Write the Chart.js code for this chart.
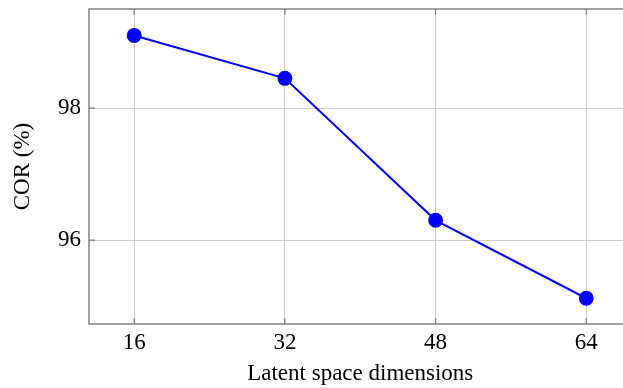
<!DOCTYPE html>
<html>
<head>
<meta charset="utf-8">
<script src="https://cdn.jsdelivr.net/npm/chart.js@4/dist/chart.umd.min.js"></script>
<style>
  html, body { margin: 0; padding: 0; background: #fff; overflow: hidden; }
</style>
</head>
<body>
<canvas id="corChart" width="640" height="388"></canvas>
<script>
// data
const dims = [16, 32, 48, 64];
const corValues = [99.1, 98.45, 96.3, 95.12];
const xTicks = [16, 32, 48, 64];
const yTicks = [96, 98];

const serif = '"Liberation Serif", "DejaVu Serif", serif';

// pgfplots-ish frame with inner tick marks
const framePlugin = {
  id: 'frame',
  afterDraw(chart) {
    const ctx = chart.ctx;
    const a = chart.chartArea;
    const xs = chart.scales.x, ys = chart.scales.y;
    ctx.save();
    ctx.strokeStyle = '#7a7a7a';
    ctx.lineWidth = 1.2;
    xTicks.forEach(v => {
      const px = xs.getPixelForValue(v);
      ctx.beginPath();
      ctx.moveTo(px, a.bottom); ctx.lineTo(px, a.bottom - 6);
      ctx.moveTo(px, a.top); ctx.lineTo(px, a.top + 6);
      ctx.stroke();
    });
    yTicks.forEach(v => {
      const py = ys.getPixelForValue(v);
      ctx.beginPath();
      ctx.moveTo(a.left, py); ctx.lineTo(a.left + 6, py);
      ctx.moveTo(a.right, py); ctx.lineTo(a.right - 6, py);
      ctx.stroke();
    });
    ctx.lineWidth = 1.4;
    ctx.strokeRect(a.left, a.top, a.right - a.left, a.bottom - a.top);
    ctx.restore();
  }
};

const ctx = document.getElementById('corChart').getContext('2d');
new Chart(ctx, {
  type: 'line',
  data: {
    datasets: [{
      data: dims.map((d, i) => ({ x: d, y: corValues[i] })),
      borderColor: '#0000ff',
      backgroundColor: '#0000ff',
      borderWidth: 2,
      pointRadius: 6.5,
      pointHoverRadius: 6.5,
      tension: 0,
    }],
  },
  options: {
    responsive: false,
    animation: false,
    devicePixelRatio: 1,
    layout: { padding: { top: 9, right: 8, left: 0, bottom: 0 } },
    plugins: {
      legend: { display: false },
      tooltip: { enabled: false },
    },
    scales: {
      x: {
        type: 'linear',
        min: 11.2,
        max: 68.8,
        afterBuildTicks: (s) => { s.ticks = xTicks.map(v => ({ value: v })); },
        afterFit: (s) => { s.height = 64; s.paddingLeft = 0; s.paddingRight = 0; },
        grid: { color: '#cccccc', lineWidth: 1, drawTicks: false },
        border: { display: false },
        ticks: {
          padding: 5,
          color: '#000',
          font: { family: serif, size: 23 },
          maxRotation: 0,
        },
        title: {
          display: true,
          text: 'Latent space dimensions',
          color: '#000',
          font: { family: serif, size: 23 },
          padding: { top: 3, bottom: 0 },
        },
      },
      y: {
        min: 94.73,
        max: 99.5,
        afterBuildTicks: (s) => { s.ticks = yTicks.map(v => ({ value: v })); },
        afterFit: (s) => { s.width = 89; s.paddingTop = 0; s.paddingBottom = 0; },
        grid: { color: '#cccccc', lineWidth: 1, drawTicks: false },
        border: { display: false },
        ticks: {
          padding: 8,
          color: '#000',
          font: { family: serif, size: 23 },
        },
        title: {
          display: true,
          text: 'COR (%)',
          color: '#000',
          font: { family: serif, size: 23 },
          padding: { top: 9, bottom: 0 },
        },
      },
    },
  },
  plugins: [framePlugin],
});
</script>
</body>
</html>
